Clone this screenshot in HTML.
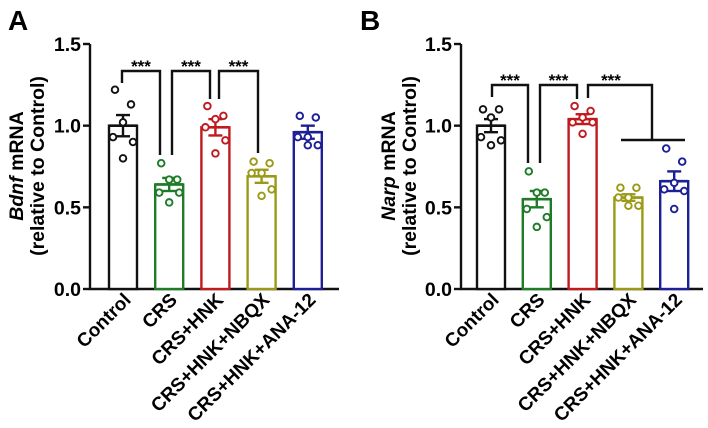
<!DOCTYPE html>
<html><head><meta charset="utf-8"><style>
body{margin:0;background:#fff;width:708px;height:423px;overflow:hidden}
svg{font-family:"Liberation Sans",Arial,sans-serif;font-weight:bold}
</style></head><body>
<svg id="c" width="708" height="423" xmlns="http://www.w3.org/2000/svg"></svg>
<script>
const categories=["Control","CRS","CRS+HNK","CRS+HNK+NBQX","CRS+HNK+ANA-12"];
const colors=["#111","#1e7b28","#c01a1f","#9b9a18","#1d1f96"];
const yTicks=[0,0.5,1.0,1.5];
const yTickLabels=["0.0","0.5","1.0","1.5"];
const bdnfMeans=[1.0,0.64,0.99,0.69,0.96];
const bdnfSem=[0.065,0.04,0.05,0.04,0.04];
const bdnfPoints=[[1.22,1.13,1.02,0.93,0.90,0.80],[0.77,0.67,0.67,0.59,0.59,0.53],[1.12,1.06,1.04,0.99,0.91,0.83],[0.78,0.77,0.71,0.71,0.61,0.57],[1.06,1.05,0.93,0.93,0.88,0.88]];
const narpMeans=[1.0,0.55,1.04,0.56,0.66];
const narpSem=[0.04,0.05,0.03,0.02,0.06];
const narpPoints=[[1.10,1.10,1.05,0.93,0.91,0.88],[0.72,0.59,0.59,0.49,0.44,0.38],[1.12,1.09,1.05,1.02,1.02,0.95],[0.62,0.62,0.56,0.56,0.51,0.51],[0.86,0.78,0.65,0.61,0.60,0.49]];
const jitter=[-8,8,0,-10,10,0];
const NS="http://www.w3.org/2000/svg";
const svg=document.getElementById('c');
function mk(tag,attrs,parent,text){const e=document.createElementNS(NS,tag);for(const k in attrs)e.setAttribute(k,attrs[k]);if(text!==undefined)e.textContent=text;(parent||svg).appendChild(e);return e;}
function panel(p){
  const g=mk('g',{});
  
  
  const y=v=>p.y0-(v/1.5)*(p.y0-p.y1);
  const x=i=>p.firstBar+i*p.step;
  const bw=28;
  const letter=mk('text',{x:p.letterX,y:30,'font-size':28},g,p.letter);
  
  const ax=mk('line',{x1:p.ax,x2:p.ax,y1:y(1.5),y2:p.y0+1,stroke:'#111','stroke-width':2.4},g);
  
  const xa=mk('line',{x1:p.ax-1,x2:p.axEnd,y1:p.y0,y2:p.y0,stroke:'#111','stroke-width':2.4},g);
  
  yTicks.forEach((t,i)=>{
    mk('line',{x1:p.ax-7,x2:p.ax,y1:y(t),y2:y(t),stroke:'#111','stroke-width':2.4},g);
    const tl=mk('text',{x:p.ax-9,y:y(t)+7,'font-size':19.5,'text-anchor':'end'},g,yTickLabels[i]);
    
  });
  const yt=mk('text',{transform:`translate(${p.titleX},166) rotate(-90)`,'font-size':19.5,'text-anchor':'middle'},g);
  
  mk('tspan',{'font-style':'italic'},yt,p.gene);
  mk('tspan',{},yt,' mRNA');
  const yt2=mk('text',{transform:`translate(${p.titleX+21},166) rotate(-90)`,'font-size':19.5,'text-anchor':'middle'},g,'(relative to Control)');
  
  categories.forEach((c,i)=>{
    const cx=x(i)+bw/2,col=colors[i];
    const b=mk('rect',{x:x(i),y:y(p.means[i]),width:bw,height:p.y0-y(p.means[i]),fill:'#fff',stroke:col,'stroke-width':2.4},g);
    
    const m=p.means[i],s=p.sem[i];
    mk('line',{x1:cx,x2:cx,y1:y(m+s),y2:y(m-s),stroke:col,'stroke-width':2.4},g);
    mk('line',{x1:cx-7,x2:cx+7,y1:y(m+s),y2:y(m+s),stroke:col,'stroke-width':2.4},g);
    mk('line',{x1:cx-7,x2:cx+7,y1:y(m-s),y2:y(m-s),stroke:col,'stroke-width':2.4},g);
    mk('line',{x1:cx-14,x2:cx+14,y1:y(m),y2:y(m),stroke:col,'stroke-width':2.6},g);
    p.points[i].forEach((v,j)=>{
      const pt=mk('circle',{cx:cx+jitter[j],cy:y(v),r:3.3,fill:'#fff',stroke:col,'stroke-width':1.9},g);
      
    });
    const lbl=mk('text',{transform:`translate(${cx+9},${p.y0+12}) rotate(-45)`,'font-size':19,'text-anchor':'end'},g,c);
    
  });
  p.brackets.forEach(br=>{
    const pl=mk('polyline',{points:`${br[0]},${br[2]} ${br[0]},${br[4]} ${br[1]},${br[4]} ${br[1]},${br[3]}`,fill:'none',stroke:'#111','stroke-width':2.4},g);
    
    const st=mk('text',{x:br[5]||(br[0]+br[1])/2,y:br[4]+1,'font-size':17,'text-anchor':'middle'},g,'***');
    
  });
  if(p.extra) mk('line',{x1:p.extra[0],x2:p.extra[1],y1:p.extra[2],y2:p.extra[2],stroke:'#111','stroke-width':2.4},g);
}
panel({name:'panel-a-bdnf',letter:'A',letterX:8,gene:'Bdnf',titleX:23,ax:90,axEnd:339,y0:289,y1:44,firstBar:109,step:46.2,
  means:bdnfMeans,sem:bdnfSem,points:bdnfPoints,
  brackets:[[122,160,83,155,71],[172,210,155,99,71],[219,258,99,153,71]]});
panel({name:'panel-b-narp',letter:'B',letterX:360,gene:'Narp',titleX:395,ax:461,axEnd:703,y0:289,y1:44,firstBar:477,step:45.8,
  means:narpMeans,sem:narpSem,points:narpPoints,
  brackets:[[492,528,97,163,85],[540,577,163,99,85],[588,652,98,140,85,611]],extra:[621,685,140]});
</script>
</body></html>
